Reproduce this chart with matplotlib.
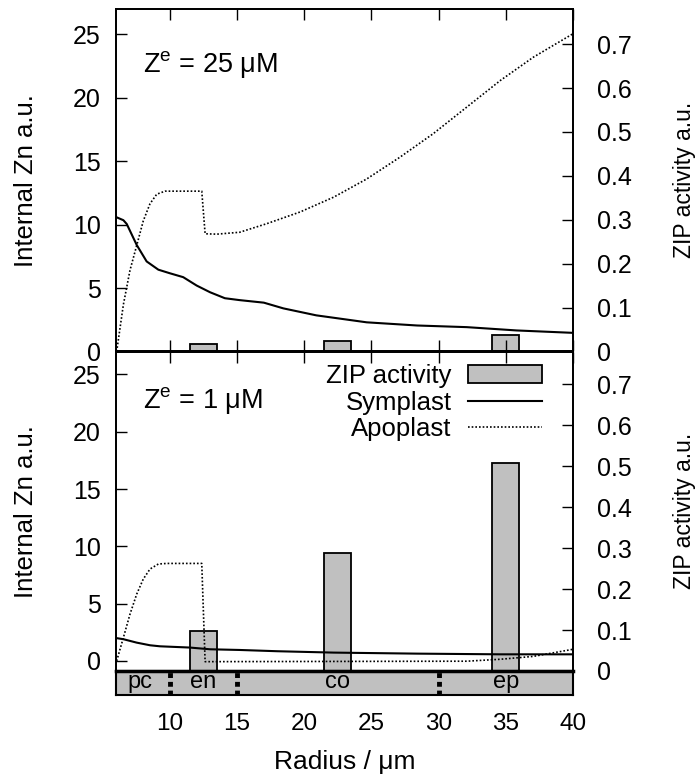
import matplotlib
matplotlib.use('Agg')
import matplotlib.pyplot as plt
from matplotlib.patches import Patch
from matplotlib.lines import Line2D

plt.rcParams['font.family'] = ['Liberation Sans', 'DejaVu Sans']
plt.rcParams['mathtext.fontset'] = 'custom'
plt.rcParams['mathtext.rm'] = 'Liberation Sans'

# ---- data ----
# Ze = 25 uM panel
r_sym_top = [6.0, 6.55, 6.8, 7.54, 8.28, 9.15, 10.0, 11.0, 12.0, 13.0, 14.1, 15.2,
             17.0, 18.45, 20.9, 24.65, 28.4, 32.1, 35.8, 40.0]
sym_top = [10.6, 10.35, 10.05, 8.4, 7.1, 6.45, 6.17, 5.86, 5.2, 4.67, 4.2, 4.05,
           3.85, 3.4, 2.85, 2.3, 2.05, 1.92, 1.66, 1.47]
r_apo_top = [6.05, 6.55, 7.04, 7.54, 8.03, 8.53, 9.03, 9.65, 12.38, 12.63, 13.5, 15.2,
             17.2, 19.7, 22.2, 24.65, 27.1, 29.6, 32.1, 34.6, 37.05, 40.0]
apo_top = [0.0, 3.7, 6.4, 8.36, 10.3, 11.65, 12.4, 12.64, 12.64, 9.28, 9.25, 9.4,
           10.07, 11.0, 12.17, 13.6, 15.3, 17.17, 19.27, 21.37, 23.2, 25.05]

# Ze = 1 uM panel
r_sym_bot = [6.0, 6.55, 7.54, 8.53, 9.27, 11.5, 13.0, 15.2, 18.0, 22.2, 28.4, 34.6, 40.0]
sym_bot = [2.0, 1.9, 1.6, 1.37, 1.28, 1.17, 1.02, 0.96, 0.85, 0.73, 0.64, 0.58, 0.58]
r_apo_bot = [6.05, 6.55, 7.04, 7.54, 8.03, 8.53, 9.15, 9.77, 12.38, 12.63, 32.1, 34.6, 37.05, 40.0]
apo_bot = [0.0, 2.04, 4.08, 5.83, 7.15, 8.02, 8.46, 8.51, 8.51, -0.06, -0.02, 0.15, 0.4, 1.02]

# ZIP activity bars
bar_x = [12.5, 22.5, 35.0]
zip_top = [0.018, 0.024, 0.038]
zip_bot = [0.097, 0.289, 0.509]

# tissue strip
tissues = ['pc', 'en', 'co', 'ep']
tissue_pos = [7.8, 12.5, 22.5, 35.0]
boundaries = [10, 15, 30]

W, H = 696, 776
fig = plt.figure(figsize=(W / 100, H / 100), dpi=100)


def box(x0, y0, x1, y1):
    # pixel box (top-left origin) -> figure fraction
    return [x0 / W, 1 - y1 / H, (x1 - x0) / W, (y1 - y0) / H]


gray = '#c0c0c0'
xt = [10, 15, 20, 25, 30, 35, 40]


def panel(ax, r_s, s, r_a, a, zips, ylo, note, xticks_bottom):
    tw = ax.twinx()
    tw.bar(bar_x, zips, width=2.0, color=gray, edgecolor='black', linewidth=1.3)
    ax.plot(r_s, s, color='black', lw=1.5)
    ax.plot(r_a, a, color='black', lw=1.2, linestyle=(0, (1, 1.2)))
    ax.set_zorder(tw.get_zorder() + 1)
    ax.patch.set_visible(False)

    ax.set_xlim(6, 40)
    ax.set_ylim(ylo, 27)
    tw.set_ylim(0, 0.78)
    ax.set_xticks(xt)
    ax.set_yticks([0, 5, 10, 15, 20, 25])
    ax.set_yticklabels(['0', '5', '10', '15', '20', '25'])
    tw.set_yticks([0, 0.1, 0.2, 0.3, 0.4, 0.5, 0.6, 0.7])
    tw.set_yticklabels(['0', '0.1', '0.2', '0.3', '0.4', '0.5', '0.6', '0.7'])
    ax.tick_params(axis='y', direction='in', length=8, width=1, labelsize=18, pad=11)
    ax.tick_params(axis='x', direction='in', length=8, width=1, top=True,
                   bottom=xticks_bottom, labelbottom=False)
    tw.tick_params(axis='y', direction='in', length=8, width=1, labelsize=18, pad=17)
    for sp in list(ax.spines.values()) + list(tw.spines.values()):
        sp.set_linewidth(1.3)

    ax.set_ylabel('Internal Zn a.u.', fontsize=18.5)
    ax.yaxis.set_label_coords(-0.171, 0.5)
    tw.set_ylabel('ZIP activity a.u.', fontsize=16.5)
    tw.yaxis.set_label_coords(1.218, 0.5)

    ax.text(0.06, note[1], note[0], transform=ax.transAxes, fontsize=19.5, va='baseline')
    return tw


ax1 = fig.add_axes(box(116, 9, 573, 351.5))
panel(ax1, r_sym_top, sym_top, r_apo_top, apo_top, zip_top, 0,
      ('Z$^{\\mathrm{e}}$ = 25 μM', 0.817), True)

ax2 = fig.add_axes(box(116, 351.5, 573, 671))
panel(ax2, r_sym_bot, sym_bot, r_apo_bot, apo_bot, zip_bot, -0.875,
      ('Z$^{\\mathrm{e}}$ = 1 μM', 0.822), False)
ax2.spines['bottom'].set_linewidth(2.5)

handles = [Patch(facecolor=gray, edgecolor='black', linewidth=1.3),
           Line2D([], [], color='black', lw=1.5),
           Line2D([], [], color='black', lw=1.2, linestyle=(0, (1, 1.2)))]
ax2.legend(handles, ['ZIP activity', 'Symplast', 'Apoplast'], loc='upper right',
           bbox_to_anchor=(0.9315, 0.96), frameon=False, markerfirst=False,
           fontsize=18.5, handlelength=2.87, handletextpad=0.63, labelspacing=0.1,
           borderaxespad=0, borderpad=0)

# tissue strip
ax3 = fig.add_axes(box(116, 671, 573, 694.5))
ax3.set_facecolor(gray)
ax3.set_xlim(6, 40)
ax3.set_ylim(0, 1)
for b in boundaries:
    ax3.axvline(b, color='black', lw=3.5, linestyle=(0, (1, 0.8)))
for name, x in zip(tissues, tissue_pos):
    ax3.text(x, 0.55, name, ha='center', va='center', fontsize=17)
ax3.set_yticks([])
ax3.set_xticks(xt)
ax3.set_xticklabels([str(v) for v in xt])
ax3.tick_params(axis='x', length=0, pad=13, labelsize=17.5)
for sp in ax3.spines.values():
    sp.set_linewidth(1.5)

fig.text(344.5 / W, 1 - 761.7 / H, 'Radius / μm', ha='center', va='center', fontsize=19)

fig.savefig('out.png', dpi=100)
